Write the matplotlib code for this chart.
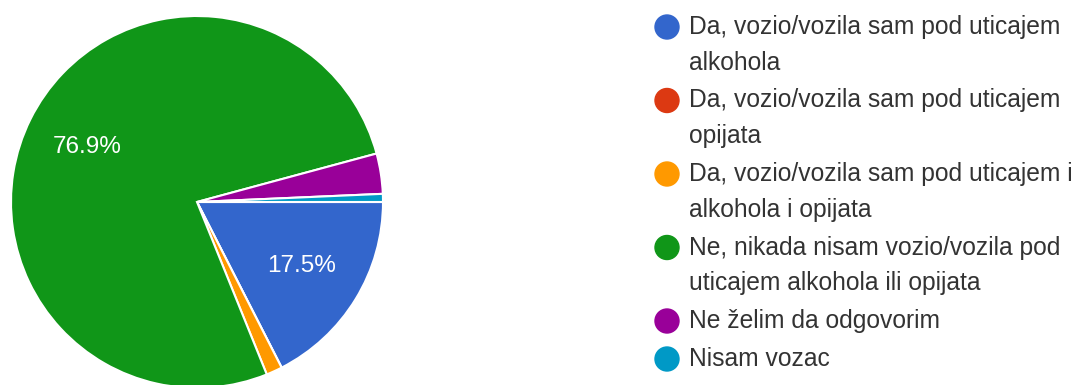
import matplotlib.pyplot as plt
from matplotlib.patches import Circle

# survey answers (counts of respondents)
answers = [
    "Da, vozio/vozila sam pod uticajem\nalkohola",
    "Da, vozio/vozila sam pod uticajem\nopijata",
    "Da, vozio/vozila sam pod uticajem i\nalkohola i opijata",
    "Ne, nikada nisam vozio/vozila pod\nuticajem alkohola ili opijata",
    "Ne želim da odgovorim",
    "Nisam vozac",
]
counts = [25, 0, 2, 110, 5, 1]
colors = ["#3366cc", "#dc3912", "#ff9900", "#109618", "#990099", "#0099c6"]

plt.rcParams["font.family"] = ["Liberation Sans", "DejaVu Sans"]

W, H = 1078, 385
fig = plt.figure(figsize=(W / 100, H / 100), dpi=100)

# pie: center (197, 202) px from top-left, radius 186 px
cx, cy, r = 197, 202, 186
ax = fig.add_axes([(cx - r) / W, (H - cy - r) / H, 2 * r / W, 2 * r / H])


def pct_label(p):
    return f"{p:.1f}%" if p > 5 else ""


ax.pie(
    counts,
    colors=colors,
    startangle=0,
    counterclock=False,
    autopct=pct_label,
    pctdistance=0.66,
    wedgeprops=dict(edgecolor="white", linewidth=1.5),
    textprops=dict(color="white", fontsize=17.5),
)
ax.set_xlim(-1, 1)
ax.set_ylim(-1, 1)
ax.set_aspect("equal")
ax.axis("off")

# legend drawn in pixel coordinates
lg = fig.add_axes([0, 0, 1, 1])
lg.set_xlim(0, W)
lg.set_ylim(H, 0)
lg.axis("off")

y = 27
line_step, item_gap = 35.5, 2.5
for label, color in zip(answers, colors):
    lg.add_patch(Circle((667, y), 12, color=color))
    for line in label.split("\n"):
        lg.text(689, y, line, fontsize=17.7, color="#333333", va="center", ha="left")
        y += line_step
    y += item_gap

fig.savefig("out.png", dpi=100)
